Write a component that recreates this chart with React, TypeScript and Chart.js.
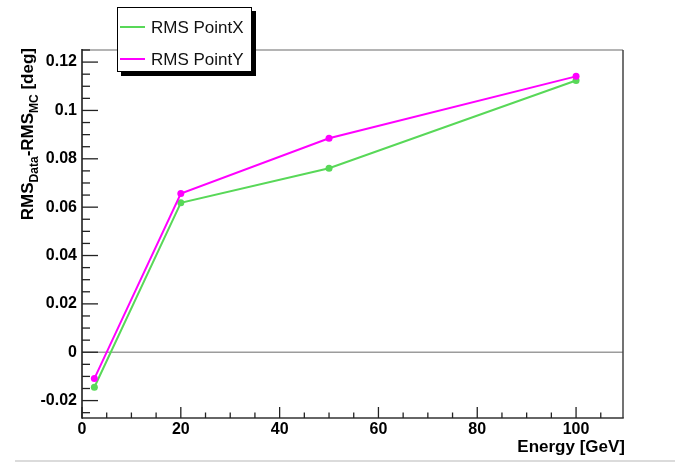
import React, { useEffect, useRef } from 'react';
import { Chart, registerables } from 'chart.js';

Chart.register(...registerables);

// ---- data ----
const energies = [2.5, 20, 50, 100];
const rmsPointX = [-0.0145, 0.0618, 0.0761, 0.1124];
const rmsPointY = [-0.0109, 0.0656, 0.0885, 0.1141];
const seriesLabels = ['RMS PointX', 'RMS PointY'];
const xTickValues = [0, 20, 40, 60, 80, 100];
const yTickValues = [-0.02, 0, 0.02, 0.04, 0.06, 0.08, 0.1, 0.12];
const xTitle = 'Energy [GeV]';

const X_MIN = 0;
const X_MAX = 109.5;
const Y_MIN = -0.0272;
const Y_MAX = 0.125;

const GREEN = '#58d858';
const MAGENTA = '#ff00ff';
const FONT = '"Liberation Sans", Arial, Helvetica, sans-serif';

function seg(ctx: CanvasRenderingContext2D, x1: number, y1: number, x2: number, y2: number) {
  ctx.beginPath();
  ctx.moveTo(x1, y1);
  ctx.lineTo(x2, y2);
  ctx.stroke();
}

const rootPlugin = {
  id: 'rootStyle',
  beforeDatasetsDraw(chart: any) {
    const { ctx, chartArea: a, scales } = chart;
    const y0 = scales.y.getPixelForValue(0);
    ctx.save();
    ctx.strokeStyle = '#9c9c9c';
    ctx.lineWidth = 1.6;
    seg(ctx, a.left, y0, a.right, y0);
    ctx.restore();
  },
  afterDatasetsDraw(chart: any) {
    const { ctx, chartArea: a, scales } = chart;
    const xs = scales.x;
    const ys = scales.y;
    ctx.save();
    // frame
    ctx.lineWidth = 1.8;
    ctx.strokeStyle = '#b4b4b4';
    seg(ctx, a.left, a.top, a.right, a.top);
    ctx.strokeStyle = '#444';
    ctx.lineWidth = 1.5;
    seg(ctx, a.right, a.top, a.right, a.bottom);
    ctx.strokeStyle = '#333';
    seg(ctx, a.left, a.bottom, a.right + 0.75, a.bottom);
    ctx.strokeStyle = '#111';
    seg(ctx, a.left, a.top - 1, a.left, a.bottom + 0.75);
    // ticks
    ctx.strokeStyle = '#222';
    ctx.lineWidth = 1.3;
    const yStep = 0.005;
    for (let k = Math.ceil(Y_MIN / yStep); k * yStep <= Y_MAX + 1e-9; k++) {
      const py = ys.getPixelForValue(k * yStep);
      const len = k % 4 === 0 ? 16 : 8;
      seg(ctx, a.left, py, a.left + len, py);
    }
    const xStep = 5;
    for (let k = Math.ceil(X_MIN / xStep); k * xStep <= X_MAX; k++) {
      const px = xs.getPixelForValue(k * xStep);
      const len = k % 4 === 0 ? 11 : 5.5;
      seg(ctx, px, a.bottom, px, a.bottom - len);
    }
    ctx.restore();
  },
  afterDraw(chart: any) {
    const { ctx, chartArea: a } = chart;
    ctx.save();
    // x title
    ctx.fillStyle = '#000';
    ctx.font = `bold 17px ${FONT}`;
    ctx.textAlign = 'right';
    ctx.textBaseline = 'alphabetic';
    ctx.fillText(xTitle, a.right + 2, 452);

    // y title (rotated, with subscripts), right-aligned at the top of the frame
    const parts: { t: string; sub: boolean }[] = [
      { t: 'RMS', sub: false },
      { t: 'Data', sub: true },
      { t: '-RMS', sub: false },
      { t: 'MC', sub: true },
      { t: ' [deg]', sub: false },
    ];
    const mainFont = `bold 17px ${FONT}`;
    const subFont = `bold 12px ${FONT}`;
    let total = 0;
    for (const p of parts) {
      ctx.font = p.sub ? subFont : mainFont;
      total += ctx.measureText(p.t).width;
    }
    ctx.translate(33, a.top - 2 + total);
    ctx.rotate(-Math.PI / 2);
    ctx.textAlign = 'left';
    let cx = 0;
    for (const p of parts) {
      ctx.font = p.sub ? subFont : mainFont;
      ctx.fillText(p.t, cx, p.sub ? 4.5 : 0);
      cx += ctx.measureText(p.t).width;
    }
    ctx.setTransform(1, 0, 0, 1, 0, 0);

    // legend box with shadow
    const bx = 117, by = 7, bw = 135, bh = 65;
    ctx.fillStyle = '#000';
    ctx.fillRect(bx + 4, by + 4, bw, bh);
    ctx.fillStyle = '#fff';
    ctx.fillRect(bx, by, bw, bh);
    ctx.strokeStyle = '#000';
    ctx.lineWidth = 1;
    ctx.strokeRect(bx + 0.5, by + 0.5, bw - 1, bh - 1);
    const rows = [27, 59];
    chart.data.datasets.forEach((ds: any, i: number) => {
      const ry = rows[i];
      ctx.strokeStyle = ds.borderColor;
      ctx.lineWidth = 2;
      seg(ctx, 120, ry, 145, ry);
      ctx.fillStyle = '#111';
      ctx.font = `17px ${FONT}`;
      ctx.textAlign = 'left';
      ctx.textBaseline = 'middle';
      ctx.fillText(ds.label, 151, ry + 1);
    });

    // page separator line at the bottom
    ctx.strokeStyle = '#cfcfcf';
    ctx.lineWidth = 1.5;
    seg(ctx, 15, 461, 675, 461);
    ctx.restore();
  },
};

export default function App() {
  const ref = useRef<HTMLCanvasElement>(null);
  useEffect(() => {
    const canvas = ref.current!;
    const tickFont = { family: FONT, size: 16, weight: 'bold' as const };
    const chart = new Chart(canvas, {
      type: 'line',
      data: {
        datasets: [
          {
            label: seriesLabels[0],
            data: energies.map((x, i) => ({ x, y: rmsPointX[i] })),
            borderColor: GREEN,
            backgroundColor: GREEN,
            pointBackgroundColor: GREEN,
            borderWidth: 2,
            pointRadius: 3.5,
            pointBorderWidth: 0,
            tension: 0,
            order: 1,
          },
          {
            label: seriesLabels[1],
            data: energies.map((x, i) => ({ x, y: rmsPointY[i] })),
            borderColor: MAGENTA,
            backgroundColor: MAGENTA,
            pointBackgroundColor: MAGENTA,
            borderWidth: 2,
            pointRadius: 3.5,
            pointBorderWidth: 0,
            tension: 0,
            order: 0,
          },
        ],
      },
      options: {
        responsive: false,
        animation: false,
        devicePixelRatio: 1,
        events: [],
        layout: { padding: { top: 50, right: 52, left: 0, bottom: 0 } },
        plugins: { legend: { display: false }, tooltip: { enabled: false }, title: { display: false } },
        scales: {
          x: {
            type: 'linear',
            min: X_MIN,
            max: X_MAX,
            afterFit: (s: any) => {
              s.height = 44;
            },
            afterBuildTicks: (s: any) => {
              s.ticks = xTickValues.map((v) => ({ value: v }));
            },
            grid: { display: false, drawTicks: false },
            border: { display: false },
            ticks: {
              font: tickFont,
              color: '#000',
              padding: 2,
              maxRotation: 0,
              autoSkip: false,
              callback: (v: any) => String(v),
            },
          },
          y: {
            type: 'linear',
            min: Y_MIN,
            max: Y_MAX,
            afterFit: (s: any) => {
              s.width = 82;
            },
            afterBuildTicks: (s: any) => {
              s.ticks = yTickValues.map((v) => ({ value: v }));
            },
            grid: { display: false, drawTicks: false },
            border: { display: false },
            ticks: {
              font: tickFont,
              color: '#000',
              padding: 5,
              autoSkip: false,
              callback: (v: any) => String(v),
            },
          },
        },
      },
      plugins: [rootPlugin],
    });
    return () => chart.destroy();
  }, []);
  return (
    <div style={{ position: 'fixed', left: 0, top: 0, width: 675, height: 462, background: '#fff' }}>
      <canvas ref={ref} width={675} height={462} style={{ display: 'block', width: 675, height: 462 }} />
    </div>
  );
}
